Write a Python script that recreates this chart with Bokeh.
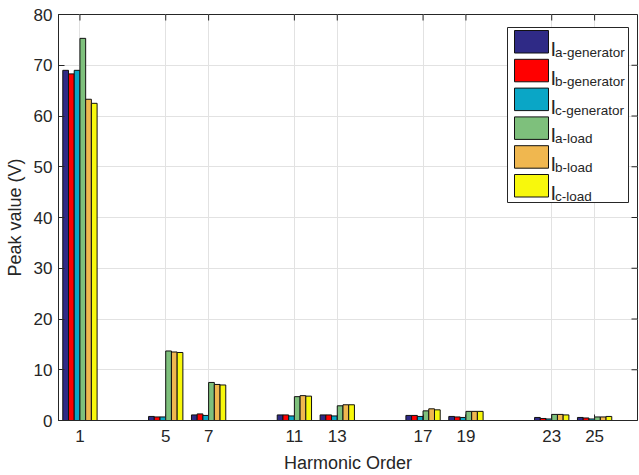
from bokeh.plotting import figure
from bokeh.models import ColumnDataSource, Range1d, FixedTicker, BoxAnnotation, Label
from bokeh.transform import dodge
from bokeh.embed import file_html
from bokeh.resources import INLINE

# Harmonic orders and peak values (V) per phase
harmonics = [1, 5, 7, 11, 13, 17, 19, 23, 25]
ia_gen = [69.0, 0.8, 1.1, 1.1, 1.1, 1.0, 0.8, 0.6, 0.6]
ib_gen = [68.3, 0.7, 1.3, 1.1, 1.1, 1.0, 0.7, 0.4, 0.5]
ic_gen = [69.0, 0.7, 1.0, 0.9, 0.9, 0.8, 0.6, 0.3, 0.3]
ia_load = [75.3, 13.7, 7.5, 4.7, 2.9, 1.9, 1.8, 1.2, 0.7]
ib_load = [63.3, 13.5, 7.1, 4.9, 3.1, 2.3, 1.8, 1.2, 0.7]
ic_load = [62.5, 13.4, 7.0, 4.8, 3.1, 2.1, 1.8, 1.1, 0.8]

series_keys = ["ia_gen", "ib_gen", "ic_gen", "ia_load", "ib_load", "ic_load"]
series_subs = ["a-generator", "b-generator", "c-generator", "a-load", "b-load", "c-load"]
series_colors = ["#2f2a86", "#ff0000", "#0aa6c6", "#7ec07c", "#f0b74f", "#f8f80c"]
y_ticks = [0, 10, 20, 30, 40, 50, 60, 70, 80]

src = ColumnDataSource(dict(h=harmonics, ia_gen=ia_gen, ib_gen=ib_gen, ic_gen=ic_gen,
                            ia_load=ia_load, ib_load=ib_load, ic_load=ic_load))

FONT = "Liberation Sans"
INK = "#262626"
W, H = 639, 475
FL, FT, FW, FH = 58, 14, 579, 406  # frame box in pixels
X0, X1, Y0, Y1 = 0, 27, 0, 80
TICK = 6  # inward tick length, px

p = figure(width=W, height=H, output_backend="svg", toolbar_location=None,
           x_range=Range1d(X0, X1), y_range=Range1d(Y0, Y1),
           min_border_left=FL, min_border_right=W - FL - FW,
           min_border_top=FT, min_border_bottom=H - FT - FH)
p.outline_line_color = INK
p.outline_line_width = 1
p.background_fill_color = "white"
p.border_fill_color = "white"

# grouped bars: 6 bars sharing a group width of 1.6 units
n = len(series_keys)
bw = 1.6 / n
for i, (key, col) in enumerate(zip(series_keys, series_colors)):
    off = (i - (n - 1) / 2) * bw
    p.vbar(x=dodge("h", off, range=p.x_range), top=key, bottom=0, width=bw,
           source=src, fill_color=col, line_color="#111111", line_width=1)

xt = FixedTicker(ticks=harmonics)
yt = FixedTicker(ticks=y_ticks)

for ax in (p.xaxis[0], p.yaxis[0]):
    ax.axis_line_color = INK
    ax.major_tick_line_color = INK
    ax.major_tick_in = TICK
    ax.major_tick_out = 0
    ax.minor_tick_line_color = None
    ax.major_label_text_font = FONT
    ax.major_label_text_color = INK
    ax.major_label_text_font_size = "17px"
    ax.axis_label_text_font = FONT
    ax.axis_label_text_color = INK
    ax.axis_label_text_font_size = "18px"
    ax.axis_label_text_font_style = "normal"

p.xaxis.ticker = xt
p.yaxis.ticker = yt
p.xaxis.axis_label = "Harmonic Order"
p.yaxis.axis_label = "Peak value (V)"
p.xaxis.major_label_standoff = 9
p.xaxis.axis_label_standoff = 8
p.yaxis.major_label_standoff = 6
p.yaxis.axis_label_standoff = 6

p.xgrid.ticker = xt
p.ygrid.ticker = yt
p.xgrid.grid_line_color = "#e2e2e2"
p.ygrid.grid_line_color = "#e2e2e2"

# mirrored inward ticks on the top and right edges of the box
tick_dy = TICK / FH * (Y1 - Y0)
tick_dx = TICK / FW * (X1 - X0)
p.segment(x0=harmonics, x1=harmonics, y0=[Y1] * len(harmonics),
          y1=[Y1 - tick_dy] * len(harmonics), line_color=INK, line_width=1)
p.segment(x0=[X1] * len(y_ticks), x1=[X1 - tick_dx] * len(y_ticks),
          y0=y_ticks, y1=y_ticks, line_color=INK, line_width=1)

# legend drawn from pixel geometry inside the frame
def dx(px):
    return X0 + (px - FL) / FW * (X1 - X0)

def dy(py):
    return Y1 - (py - FT) / FH * (Y1 - Y0)

p.add_layout(BoxAnnotation(left=dx(507), right=dx(628), top=dy(27), bottom=dy(202),
                           fill_color="white", fill_alpha=1.0,
                           line_color=INK, line_width=1, line_alpha=1.0))
step = 28.8
for i, (sub, col) in enumerate(zip(series_subs, series_colors)):
    top = 30 + step * i
    p.add_layout(BoxAnnotation(left=dx(514), right=dx(548), top=dy(top), bottom=dy(top + 22.5),
                               fill_color=col, fill_alpha=1.0,
                               line_color="#111111", line_width=1, line_alpha=1.0))
    p.add_layout(Label(x=dx(550), y=dy(top + 18.5), text="I", text_font=FONT,
                       text_font_size="20px", text_color=INK, text_baseline="alphabetic"))
    p.add_layout(Label(x=dx(554.5), y=dy(top + 22), text=sub, text_font=FONT,
                       text_font_size="13.5px", text_color=INK, text_baseline="alphabetic"))

open("out.html", "w").write(file_html(p, INLINE))
